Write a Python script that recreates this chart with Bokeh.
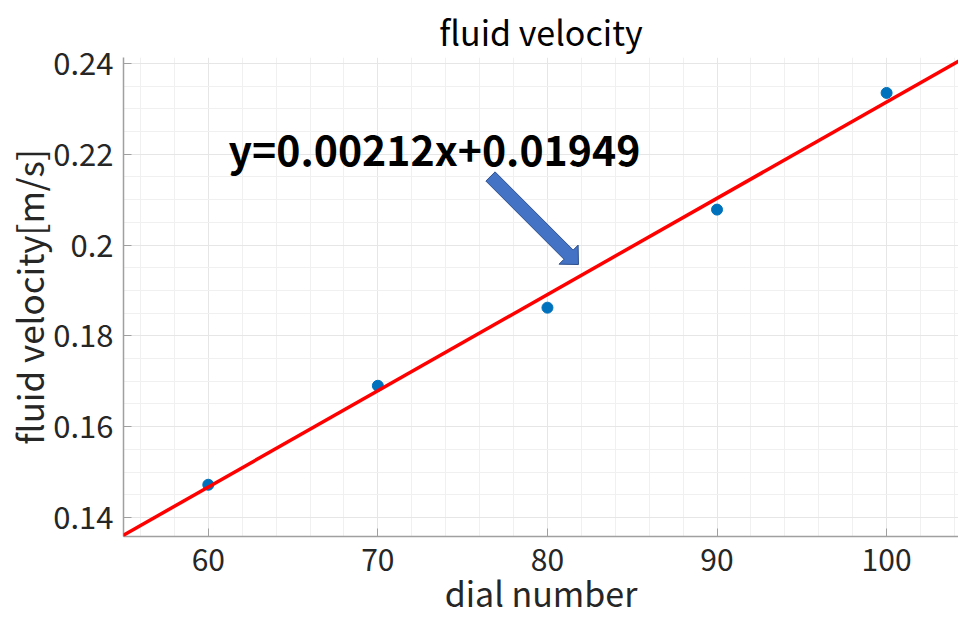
import numpy as np
from bokeh.plotting import figure
from bokeh.models import Range1d, FixedTicker, Slope, Label
from bokeh.embed import file_html
from bokeh.resources import INLINE

# ---- data ----
dial = [60, 70, 80, 90, 100]
velocity = [0.1472, 0.1690, 0.1862, 0.2078, 0.2335]
fit_slope = 0.00212
fit_intercept = 0.01949
fit_text = "y=0.00212x+0.01949"
x_ticks = [60, 70, 80, 90, 100]
x_tick_labels = ["60", "70", "80", "90", "100"]
y_ticks = [0.14, 0.16, 0.18, 0.20, 0.22, 0.24]
y_tick_labels = ["0.14", "0.16", "0.18", "0.2", "0.22", "0.24"]
x_minor = [56, 58, 62, 64, 66, 68, 72, 74, 76, 78, 82, 84, 86, 88, 92, 94, 96, 98, 102, 104]
y_minor = [0.135, 0.145, 0.15, 0.155, 0.165, 0.17, 0.175, 0.185, 0.19, 0.195,
           0.205, 0.21, 0.215, 0.225, 0.23, 0.235]
title_text = "fluid velocity"
x_label = "dial number"
y_label = "fluid velocity[m/s]"
# annotation arrow (data coords: tail, tip)
arrow_tail = (76.64, 0.2151)
arrow_tip = (81.83, 0.1957)
text_pos = (61.19, 0.2213)

X0, X1 = 55.0, 104.24
Y0, Y1 = 0.1358, 0.2413

W, H = 958, 621
ML, MR, MT, MB = 123, 0, 57, 85
FW, FH = W - ML - MR, H - MT - MB

FONT = "Noto Sans CJK JP"

p = figure(width=W, height=H, output_backend="svg", toolbar_location=None,
           x_range=Range1d(X0, X1), y_range=Range1d(Y0, Y1),
           min_border_left=ML, min_border_right=MR, min_border_top=MT, min_border_bottom=MB)
p.outline_line_color = None
p.background_fill_color = "white"
p.border_fill_color = "white"

p.title.text = title_text
p.title.align = "center"
p.title.text_font = FONT
p.title.text_font_size = "34px"
p.title.text_font_style = "normal"
p.title.text_color = "#000000"
p.title.standoff = 4

p.xaxis.ticker = FixedTicker(ticks=x_ticks, minor_ticks=x_minor)
p.yaxis.ticker = FixedTicker(ticks=y_ticks, minor_ticks=y_minor)
p.xaxis.major_label_overrides = {t: l for t, l in zip(x_ticks, x_tick_labels)}
p.yaxis.major_label_overrides = {t: l for t, l in zip(y_ticks, y_tick_labels)}

for ax in (p.xaxis, p.yaxis):
    ax.axis_line_color = "#a0a0a0"
    ax.axis_line_width = 1.5
    ax.major_tick_line_color = "#a0a0a0"
    ax.major_tick_in = 8
    ax.major_tick_out = 0
    ax.minor_tick_in = 0
    ax.minor_tick_out = 0
    ax.major_label_text_font = FONT
    ax.major_label_text_color = "#262626"
    ax.axis_label_text_font = FONT
    ax.axis_label_text_font_style = "normal"
    ax.axis_label_text_color = "#262626"
p.xaxis.major_label_text_font_size = "30px"
p.yaxis.major_label_text_font_size = "31px"
p.xaxis.axis_label = x_label
p.yaxis.axis_label = y_label
p.xaxis.axis_label_text_font_size = "34px"
p.yaxis.axis_label_text_font_size = "35px"
p.xaxis.major_label_standoff = 12
p.yaxis.major_label_standoff = 10
p.xaxis.axis_label_standoff = -6
p.yaxis.axis_label_standoff = -4

for g in (p.xgrid, p.ygrid):
    g.grid_line_color = "#e6e6e6"
    g.grid_line_width = 1
    g.minor_grid_line_color = "#f0f0f0"
    g.minor_grid_line_width = 1

# pixel scale of the frame
sx = FW / (X1 - X0)
sy = FH / (Y1 - Y0)

# fit line
p.add_layout(Slope(gradient=fit_slope, y_intercept=fit_intercept,
                   line_color="#ff0000", line_width=3.5))

# data points
p.scatter(dial, velocity, size=11, color="#0072BD")

# block arrow built in pixel space, converted back to data coords
tx, ty = arrow_tail[0] * sx, -arrow_tail[1] * sy
hx, hy = arrow_tip[0] * sx, -arrow_tip[1] * sy
d = np.array([hx - tx, hy - ty])
L = np.hypot(*d)
u = d / L
n = np.array([-u[1], u[0]])
shaft_w, head_w, head_l = 13.0, 27.0, 14.0
tail = np.array([tx, ty])
base = tail + u * (L - head_l)
tip = np.array([hx, hy])
pts = [tail + n * shaft_w / 2, base + n * shaft_w / 2, base + n * head_w / 2, tip,
       base - n * head_w / 2, base - n * shaft_w / 2, tail - n * shaft_w / 2]
ax_pts = [pt[0] / sx for pt in pts]
ay_pts = [-pt[1] / sy for pt in pts]
p.patch(ax_pts, ay_pts, fill_color="#4472C4", line_color="#2F528F", line_width=1)

p.add_layout(Label(x=text_pos[0], y=text_pos[1], text=fit_text,
                   text_font=FONT, text_font_size="41px", text_font_style="bold",
                   text_color="#000000", text_baseline="alphabetic", text_align="left"))

open("out.html", "w").write(file_html(p, INLINE))
